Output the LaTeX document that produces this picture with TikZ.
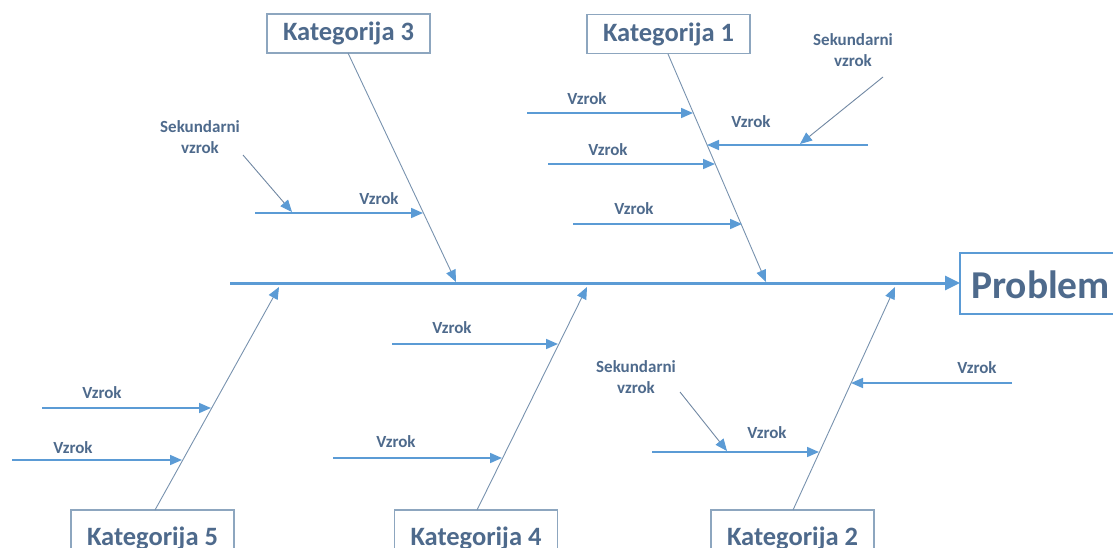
\documentclass[tikz,border=0pt]{standalone}
\usepackage{fontspec}
\setmainfont{Carlito}
\usetikzlibrary{arrows.meta}
\definecolor{spineblue}{HTML}{5B9BD5}
\definecolor{bonegrey}{HTML}{7892AE}
\definecolor{secgrey}{HTML}{7087A2}
\definecolor{labelcol}{HTML}{4E6A8C}
\definecolor{boxline}{HTML}{8DA6BF}
\begin{document}
\begin{tikzpicture}[x=1pt,y=-1pt,
  catbox/.style={draw=boxline,line width=1.3pt,minimum width=163pt,inner sep=0pt,
    text=labelcol,font=\fontsize{26.5}{28}\selectfont\bfseries},
  causelabel/.style={text=labelcol,font=\fontsize{17}{19}\selectfont\bfseries,inner sep=0pt},
  seclabel/.style={text=labelcol,font=\fontsize{17}{21}\selectfont\bfseries,align=center,inner sep=0pt},
  bone/.style={draw=bonegrey,line width=0.9pt},
  bonetip/.style={-{Triangle[length=12pt,width=10pt,color=spineblue]}},
  cause/.style={draw=spineblue,line width=1.7pt,-{Triangle[length=12pt,width=10pt]}},
  secondary/.style={draw=secgrey,line width=0.9pt,-{Triangle[length=12pt,width=10pt,color=spineblue]}},
  spine/.style={draw=spineblue,line width=3pt,-{Triangle[length=15pt,width=14pt]}}]
\useasboundingbox (0,0) rectangle (1113,548);
\clip (0,0) rectangle (1113,548);

% category boxes (the lower ones run past the bottom edge)
\node[catbox,minimum height=39pt] (k3) at (348.5,33.5) {Kategorija 3};
\node[catbox,minimum height=39pt] (k1) at (668.5,34) {Kategorija 1};
\node[catbox,minimum height=56pt] (k5) at (152.5,538) {Kategorija 5};
\node[catbox,minimum height=56pt] (k4) at (476,538) {Kategorija 4};
\node[catbox,minimum height=56pt] (k2) at (792.5,538) {Kategorija 2};

% problem (head)
\draw[draw=spineblue,line width=2pt] (960,253) rectangle (1140,314);
\coordinate (pw) at (960,283);
\node[anchor=west,inner sep=0pt,text=labelcol,font=\fontsize{39.5}{41}\selectfont\bfseries] (problem) at (971,285) {Problem};

% spine
\coordinate (s0) at (230,283);
\draw[spine] (s0) -- (pw);

% bone end points on the spine
\coordinate (t3) at (456,282);
\coordinate (t1) at (766,282);
\coordinate (t5) at (279,287);
\coordinate (t4) at (587,287);
\coordinate (t2) at (895,287);
\coordinate (b3) at (348,53);
\coordinate (b1) at (668,54);
\coordinate (b5) at (155,510);
\coordinate (b4) at (477,510);
\coordinate (b2) at (793,510);

\draw[bone,bonetip] (b3) -- (t3);
\draw[bone,bonetip] (b1) -- (t1);
\draw[bone,bonetip] (b5) -- (t5);
\draw[bone,bonetip] (b4) -- (t4);
\draw[bone,bonetip] (b2) -- (t2);

% Kategorija 3 causes
\coordinate (c3a) at (255,213); \coordinate (e3a) at (423,213);
\draw[cause] (c3a) -- (e3a);
\node[causelabel] (l3a) at (379,199) {Vzrok};
\coordinate (s3s) at (243,155); \coordinate (s3e) at (292,212);
\draw[secondary] (s3s) -- (s3e);
\node[seclabel] (sl3) at (200,137) {Sekundarni\\vzrok};

% Kategorija 1 causes
\coordinate (c1a) at (527,113); \coordinate (e1a) at (693,113);
\coordinate (c1b) at (548,164); \coordinate (e1b) at (715,164);
\coordinate (c1c) at (573,224); \coordinate (e1c) at (742,224);
\coordinate (c1d) at (868,145); \coordinate (e1d) at (707,145);
\draw[cause] (c1a) -- (e1a);
\draw[cause] (c1b) -- (e1b);
\draw[cause] (c1c) -- (e1c);
\draw[cause] (c1d) -- (e1d);
\node[causelabel] (l1a) at (587,99) {Vzrok};
\node[causelabel] (l1b) at (608,150) {Vzrok};
\node[causelabel] (l1c) at (634,209) {Vzrok};
\node[causelabel] (l1d) at (751,122) {Vzrok};
\coordinate (s1s) at (883,77); \coordinate (s1e) at (800,144);
\draw[secondary] (s1s) -- (s1e);
\node[seclabel] (sl1) at (853,50) {Sekundarni\\vzrok};

% Kategorija 2 causes
\coordinate (c2a) at (1012,383); \coordinate (e2a) at (851,383);
\coordinate (c2b) at (652,452); \coordinate (e2b) at (819,452);
\draw[cause] (c2a) -- (e2a);
\draw[cause] (c2b) -- (e2b);
\node[causelabel] (l2a) at (977,368) {Vzrok};
\node[causelabel] (l2b) at (767,433) {Vzrok};
\coordinate (s2s) at (680,392); \coordinate (s2e) at (727,451);
\draw[secondary] (s2s) -- (s2e);
\node[seclabel] (sl2) at (636,377) {Sekundarni\\vzrok};

% Kategorija 4 causes
\coordinate (c4a) at (392,344); \coordinate (e4a) at (558,344);
\coordinate (c4b) at (333,458); \coordinate (e4b) at (502,458);
\draw[cause] (c4a) -- (e4a);
\draw[cause] (c4b) -- (e4b);
\node[causelabel] (l4a) at (452,328) {Vzrok};
\node[causelabel] (l4b) at (396,442) {Vzrok};

% Kategorija 5 causes
\coordinate (c5a) at (42,408); \coordinate (e5a) at (211,408);
\coordinate (c5b) at (12,460); \coordinate (e5b) at (182,460);
\draw[cause] (c5a) -- (e5a);
\draw[cause] (c5b) -- (e5b);
\node[causelabel] (l5a) at (102,393) {Vzrok};
\node[causelabel] (l5b) at (73,448) {Vzrok};
\end{tikzpicture}
\end{document}
